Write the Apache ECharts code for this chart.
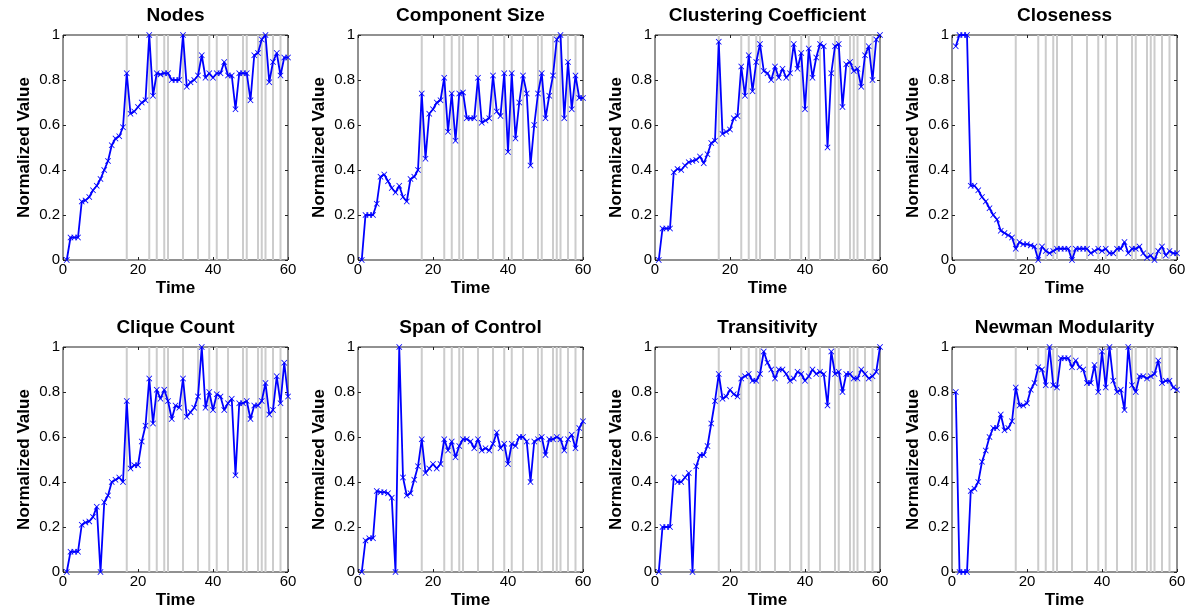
<!DOCTYPE html>
<html style="height: 100%">
<head>
<meta charset="utf-8"/>
<script type="text/javascript" src="https://cdn.jsdelivr.net/npm/echarts@6/dist/echarts.min.js"></script>
</head>
<body style="height: 100%; margin: 0; background: #fff">
<div id="container" style="width: 1200px; height: 613px"></div>
<script type="text/javascript">
// times where the gray event lines are drawn
var eventTimes = [17, 23, 25, 27, 28, 32, 36, 39, 41, 44, 48, 49, 52, 53, 54, 56, 58];

// one value per time step, t = 1..60
var nodes = [0, 0.1, 0.1, 0.1, 0.26, 0.265, 0.28, 0.31, 0.33, 0.36, 0.40, 0.44, 0.51, 0.54, 0.55, 0.59, 0.83, 0.65, 0.66, 0.68,
	0.70, 0.71, 1.0, 0.73, 0.83, 0.825, 0.83, 0.83, 0.80, 0.80, 0.80, 1.0, 0.77, 0.79, 0.80, 0.82, 0.91, 0.81, 0.83, 0.81,
	0.83, 0.83, 0.88, 0.82, 0.82, 0.67, 0.83, 0.83, 0.83, 0.71, 0.91, 0.92, 0.98, 1.0, 0.79, 0.88, 0.92, 0.82, 0.90, 0.90];
var componentSize = [0, 0.2, 0.2, 0.2, 0.25, 0.37, 0.38, 0.35, 0.32, 0.30, 0.33, 0.28, 0.26, 0.36, 0.37, 0.40, 0.74, 0.45, 0.65, 0.67,
	0.70, 0.71, 0.81, 0.57, 0.74, 0.53, 0.74, 0.745, 0.63, 0.63, 0.63, 0.81, 0.61, 0.62, 0.63, 0.82, 0.66, 0.64, 0.83, 0.48,
	0.83, 0.54, 0.70, 0.82, 0.74, 0.42, 0.60, 0.74, 0.83, 0.63, 0.73, 0.82, 0.98, 1.0, 0.63, 0.88, 0.67, 0.82, 0.72, 0.72];
var clustering = [0, 0.14, 0.14, 0.14, 0.39, 0.405, 0.40, 0.42, 0.435, 0.44, 0.445, 0.46, 0.43, 0.47, 0.52, 0.53, 0.97, 0.56, 0.57, 0.58,
	0.63, 0.64, 0.86, 0.73, 0.91, 0.75, 0.88, 0.96, 0.84, 0.83, 0.80, 0.86, 0.81, 0.85, 0.81, 0.83, 0.96, 0.85, 0.92, 0.67,
	0.94, 0.81, 0.90, 0.96, 0.95, 0.50, 0.83, 0.95, 0.96, 0.68, 0.87, 0.88, 0.84, 0.85, 0.77, 0.91, 0.95, 0.80, 0.98, 1.0];
var closeness = [0.95, 1.0, 1.0, 1.0, 0.33, 0.33, 0.31, 0.28, 0.26, 0.23, 0.20, 0.18, 0.13, 0.12, 0.11, 0.10, 0.05, 0.08, 0.07, 0.07,
	0.065, 0.06, 0, 0.06, 0.04, 0.03, 0.04, 0.05, 0.05, 0.05, 0.05, 0, 0.05, 0.05, 0.05, 0.05, 0.03, 0.04, 0.05, 0.04,
	0.05, 0.03, 0.03, 0.05, 0.05, 0.08, 0.03, 0.05, 0.05, 0.06, 0.03, 0.01, 0.02, 0, 0.04, 0.06, 0.02, 0.04, 0.03, 0.03];
var cliqueCount = [0, 0.09, 0.09, 0.09, 0.21, 0.22, 0.225, 0.245, 0.29, 0, 0.31, 0.34, 0.40, 0.41, 0.42, 0.40, 0.76, 0.46, 0.475, 0.475,
	0.58, 0.65, 0.86, 0.66, 0.81, 0.77, 0.81, 0.76, 0.68, 0.74, 0.73, 0.86, 0.69, 0.71, 0.73, 0.78, 1.0, 0.73, 0.80, 0.72,
	0.79, 0.78, 0.72, 0.75, 0.77, 0.43, 0.75, 0.75, 0.76, 0.68, 0.74, 0.74, 0.76, 0.84, 0.70, 0.72, 0.87, 0.75, 0.93, 0.78];
var spanOfControl = [0, 0.14, 0.15, 0.15, 0.36, 0.355, 0.355, 0.35, 0.33, 0, 1.0, 0.42, 0.34, 0.35, 0.41, 0.47, 0.59, 0.44, 0.46, 0.48,
	0.46, 0.48, 0.59, 0.54, 0.58, 0.51, 0.56, 0.59, 0.59, 0.58, 0.55, 0.59, 0.54, 0.55, 0.54, 0.57, 0.62, 0.55, 0.57, 0.48,
	0.57, 0.56, 0.60, 0.60, 0.58, 0.40, 0.58, 0.59, 0.60, 0.52, 0.59, 0.59, 0.60, 0.59, 0.54, 0.59, 0.61, 0.55, 0.64, 0.67];
var transitivity = [0, 0.20, 0.20, 0.20, 0.42, 0.40, 0.40, 0.42, 0.44, 0, 0.47, 0.52, 0.52, 0.56, 0.66, 0.76, 0.88, 0.77, 0.78, 0.81,
	0.79, 0.78, 0.86, 0.87, 0.88, 0.85, 0.85, 0.88, 0.98, 0.93, 0.90, 0.86, 0.90, 0.90, 0.88, 0.85, 0.86, 0.89, 0.88, 0.85,
	0.87, 0.90, 0.88, 0.89, 0.88, 0.74, 0.98, 0.88, 0.89, 0.80, 0.88, 0.88, 0.86, 0.86, 0.90, 0.88, 0.86, 0.87, 0.89, 1.0];
var newman = [0.80, 0, 0, 0, 0.36, 0.37, 0.40, 0.49, 0.54, 0.60, 0.64, 0.64, 0.70, 0.63, 0.64, 0.67, 0.82, 0.74, 0.74, 0.75,
	0.81, 0.84, 0.91, 0.90, 0.83, 1.0, 0.83, 0.82, 0.95, 0.95, 0.95, 0.91, 0.94, 0.91, 0.90, 0.84, 0.84, 0.92, 0.80, 0.98,
	0.82, 1.0, 0.85, 0.80, 0.81, 0.72, 1.0, 0.83, 0.80, 0.87, 0.87, 0.86, 0.87, 0.88, 0.94, 0.84, 0.85, 0.85, 0.82, 0.81];

var titles = ["Nodes", "Component Size", "Clustering Coefficient", "Closeness",
	"Clique Count", "Span of Control", "Transitivity", "Newman Modularity"];
var seriesValues = [nodes, componentSize, clustering, closeness, cliqueCount, spanOfControl, transitivity, newman];

var colLefts = [63, 358, 655, 952];
var rowTops = [35, 347];
var plotSize = 225;
var fontName = "Liberation Sans, Arial, sans-serif";
var xMark = "path://M0,1L1,0L5,4L9,0L10,1L6,5L10,9L9,10L5,6L1,10L0,9L4,5Z";

// event lines as one broken line: bottom -> top, then a gap
var eventLineData = [];
for (var e = 0; e < eventTimes.length; e++) {
	eventLineData.push([eventTimes[e], 0], [eventTimes[e], 1], [eventTimes[e], "-"]);
}

function buildOption(withBoxTicks) {
	var option = {
		animation: false,
		backgroundColor: "#fff",
		grid: [], xAxis: [], yAxis: [], series: [], graphic: []
	};
	var perGrid = withBoxTicks ? 2 : 1;
	for (var i = 0; i < titles.length; i++) {
		var left = colLefts[i % 4];
		var top = rowTops[Math.floor(i / 4)];
		option.grid.push({
			left: left, top: top, width: plotSize, height: plotSize,
			show: true, borderColor: "#222", borderWidth: 1, backgroundColor: "#fff"
		});
		// titles and axis names as plain text
		option.graphic.push({
			type: "text", x: left + plotSize / 2, y: top - 19,
			style: {text: titles[i], textAlign: "center", textVerticalAlign: "middle",
				font: "bold 19px " + fontName, fill: "#000"}
		});
		option.graphic.push({
			type: "text", x: left + plotSize / 2, y: top + plotSize + 28,
			style: {text: "Time", textAlign: "center", textVerticalAlign: "middle",
				font: "bold 17px " + fontName, fill: "#000"}
		});
		option.graphic.push({
			type: "text", x: left - 39, y: top + plotSize / 2, rotation: Math.PI / 2,
			style: {text: "Normalized Value", textAlign: "center", textVerticalAlign: "middle",
				font: "bold 17px " + fontName, fill: "#000"}
		});
		option.xAxis.push({
			gridIndex: i, type: "value", min: 0, max: 60, interval: 20,
			axisLine: {show: false, onZero: false},
			axisTick: {inside: true, length: 3, lineStyle: {color: "#222"}},
			axisLabel: {fontFamily: fontName, fontSize: 15, color: "#000", margin: 2},
			splitLine: {show: false}
		});
		option.yAxis.push({
			gridIndex: i, type: "value", min: 0, max: 1, interval: 0.2,
			axisLine: {show: false, onZero: false},
			axisTick: {inside: true, length: 3, lineStyle: {color: "#222"}},
			axisLabel: {fontFamily: fontName, fontSize: 15, color: "#000", margin: 3},
			splitLine: {show: false}
		});
		if (withBoxTicks) {
			option.xAxis.push({
				gridIndex: i, type: "value", min: 0, max: 60, interval: 20, position: "top",
				axisLine: {show: false, onZero: false},
				axisTick: {inside: true, length: 3, lineStyle: {color: "#222"}},
				axisLabel: {show: false}, splitLine: {show: false}
			});
			option.yAxis.push({
				gridIndex: i, type: "value", min: 0, max: 1, interval: 0.2, position: "right",
				axisLine: {show: false, onZero: false},
				axisTick: {inside: true, length: 3, lineStyle: {color: "#222"}},
				axisLabel: {show: false}, splitLine: {show: false}
			});
		}
		var ax = perGrid * i;
		// gray event lines behind the data
		option.series.push({
			type: "line", xAxisIndex: ax, yAxisIndex: ax, z: 1,
			data: eventLineData, showSymbol: false, symbol: "none", connectNulls: false,
			lineStyle: {color: "#cccccc", width: 2}, silent: true
		});
		option.series.push({
			type: "line", xAxisIndex: ax, yAxisIndex: ax, z: 3,
			data: seriesValues[i].map(function (v, k) { return [k + 1, v]; }),
			symbol: xMark, symbolSize: 6,
			lineStyle: {color: "#0000ff", width: 1.8},
			itemStyle: {color: "#0000ff"},
			clip: false
		});
	}
	return option;
}

var myChart = echarts.init(document.getElementById("container"));
try {
	myChart.setOption(buildOption(true));
} catch (err) {
	console.error("full option failed: " + err.message);
	myChart.dispose();
	myChart = echarts.init(document.getElementById("container"));
	myChart.setOption(buildOption(false));
}
</script>
</body>
</html>
